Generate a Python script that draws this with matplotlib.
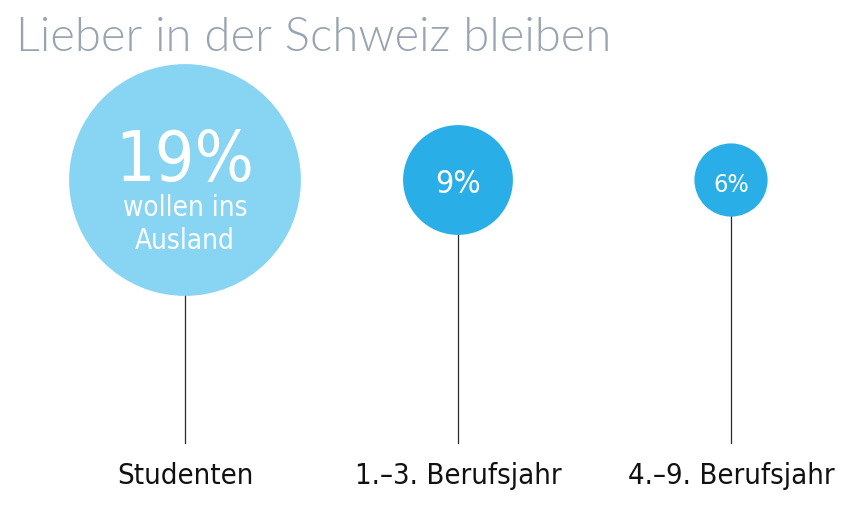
import matplotlib.pyplot as plt
from matplotlib import font_manager as fm

# data
categories = ["Studenten", "1.\u20133. Berufsjahr", "4.\u20139. Berufsjahr"]
values = [19, 9, 6]
labels_in = ["19%", "9%", "6%"]
colors = ["#87d4f3", "#29aee7", "#29aee7"]

title = "Lieber in der Schweiz bleiben"


def pick_narrow():
    # look for some condensed sans face, regular weight
    for f in fm.fontManager.ttflist:
        name = f.name.lower()
        if ("narrow" in name or "condensed" in name or "condensed" in str(f.stretch)) \
                and f.style == "normal" and f.weight in (400, "normal", "regular"):
            return f.fname
    for f in fm.fontManager.ttflist:
        if f.name == "Roboto" and f.style == "normal" and f.weight in (400, "normal", "regular"):
            return f.fname
    return None


narrow_file = pick_narrow()


def cond(size):
    if narrow_file:
        return fm.FontProperties(fname=narrow_file, size=size)
    return fm.FontProperties(family="DejaVu Sans", size=size)


fig = plt.figure(figsize=(8.56, 5.15), dpi=100)
ax = fig.add_axes([0, 71 / 515, 1, 264 / 515])

x = list(range(len(values)))
px_per_unit = 6.1  # circle radius in px per percent
sizes = [(2 * v * px_per_unit * 0.72) ** 2 for v in values]

ax.vlines(x, 0, 1, color="#2b2b2b", linewidth=0.9, zorder=1)
ax.scatter(x, [1] * len(x), s=sizes, c=colors, edgecolors="none", zorder=2, clip_on=False)

ax.set_xlim(-185 / 273, 2 + 125 / 273)
ax.set_ylim(0, 1)

# text inside circles
ax.annotate(labels_in[0], (0, 1), xytext=(0, -1), textcoords="offset points",
            ha="center", va="baseline", color="white", fontproperties=cond(50))
ax.annotate("wollen ins", (0, 1), xytext=(0, -26), textcoords="offset points",
            ha="center", va="baseline", color="white", fontproperties=cond(20))
ax.annotate("Ausland", (0, 1), xytext=(0, -50), textcoords="offset points",
            ha="center", va="baseline", color="white", fontproperties=cond(20))
ax.annotate(labels_in[1], (1, 1), xytext=(0, -9.4), textcoords="offset points",
            ha="center", va="baseline", color="white", fontproperties=cond(23))
ax.annotate(labels_in[2], (2, 1), xytext=(0, -8.6), textcoords="offset points",
            ha="center", va="baseline", color="white", fontproperties=cond(18))

ax.set_xticks(x)
ax.set_xticklabels(categories, fontproperties=cond(21), color="#111111")
ax.tick_params(axis="x", length=0, pad=13)
ax.set_yticks([])
for s in ax.spines.values():
    s.set_visible(False)

fig.text(16 / 856, 1 - 51 / 515, title, ha="left", va="baseline",
         fontsize=34, color="#98a4b2", family="Lato", fontweight=300)

fig.savefig("out.png", dpi=100)
